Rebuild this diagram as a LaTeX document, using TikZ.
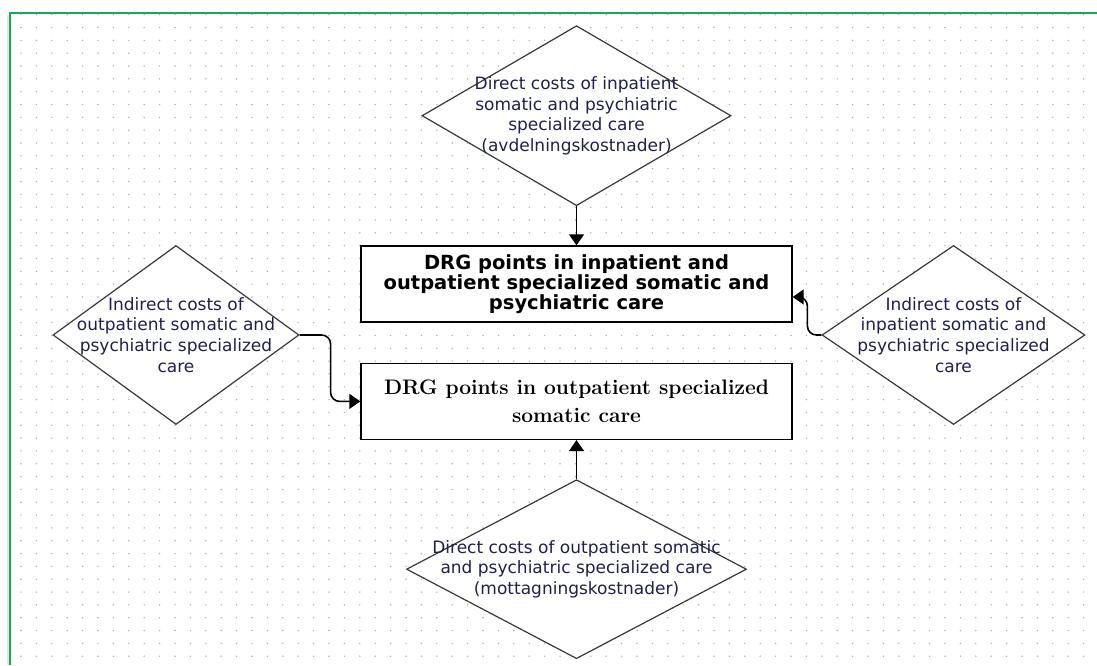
\documentclass[tikz,border=0pt]{standalone}
\usepackage{fontspec}
\newfontfamily\diafont{DejaVu Sans}
\usepackage{tikz}
\usetikzlibrary{arrows.meta,shapes.geometric,positioning}
\definecolor{framegreen}{RGB}{22,172,84}
\definecolor{inkblue}{RGB}{32,32,78}
\definecolor{dotgray}{RGB}{175,175,175}

\begin{document}
\begin{tikzpicture}[
	x=1pt, y=1pt,
	dia/.style = {draw=black!78, fill=white, diamond, line width=1.2pt, inner sep=0pt},
	diatext/.style = {align=center, text=inkblue, font=\diafont\fontsize{17}{20.7}\selectfont},
	box/.style = {draw, fill=white, line width=1.4pt, minimum width=431pt, minimum height=76pt, align=center, inner sep=0pt},
	arrow/.style = {line width=1.6pt, -{Triangle[length=11pt, width=15pt]}, rounded corners=9pt}
	]
	\useasboundingbox (0,0) rectangle (1097,665);
	
	% dotted sheet and frame
	\foreach \i in {0,...,69}
		\foreach \j in {0,...,50}
			\fill[dotgray] (21+15.4*\i, 650.3-12.83*\j) circle (0.8);
	\draw[black!10, line width=2pt] (7.5,0) -- (7.5,650);
	\draw[framegreen, line width=1.8pt] (10,0) -- (10,652) -- (1097,652);
	
	% DRG boxes
	\node[box, font=\diafont\bfseries\fontsize{19.5}{20}\selectfont] (inboth) at (576.5,381)
		{DRG points in inpatient and\\outpatient specialized somatic and\\psychiatric care};
	\node[box, below=40pt of inboth, font=\bfseries\fontsize{21}{28}\selectfont] (outsom)
		{DRG points in outpatient specialized\\somatic care};
	
	% cost diamonds
	\node[dia, minimum width=309pt, minimum height=180pt, above=39pt of inboth] (dirin) {};
	\node[dia, minimum width=340pt, minimum height=179pt, below=39pt of outsom] (dirout) {};
	\node[dia, minimum width=246pt, minimum height=179pt] (indout) at (176,330) {};
	\node[dia, minimum width=263pt, minimum height=179pt] (indin) at (953.5,330) {};
	
	\node[diatext] (dirin-t) at (dirin) {Direct costs of inpatient\\somatic and psychiatric\\specialized care\\(avdelningskostnader)};
	\node[diatext] (dirout-t) at (dirout) {Direct costs of outpatient somatic\\and psychiatric specialized care\\(mottagningskostnader)};
	\node[diatext] (indout-t) at (indout) {Indirect costs of\\outpatient somatic and\\psychiatric specialized\\care};
	\node[diatext] (indin-t) at (indin) {Indirect costs of\\inpatient somatic and\\psychiatric specialized\\care};
	
	\draw[arrow] (dirin) -- (inboth);
	\draw[arrow] (dirout) -- (outsom);
	\draw[arrow] (indout.east) -- ++(31,0) |- (outsom.west);
	\draw[arrow] (indin.west) -- ++(-14,0) |- ([yshift=-13pt]inboth.east);
\end{tikzpicture}
\end{document}
